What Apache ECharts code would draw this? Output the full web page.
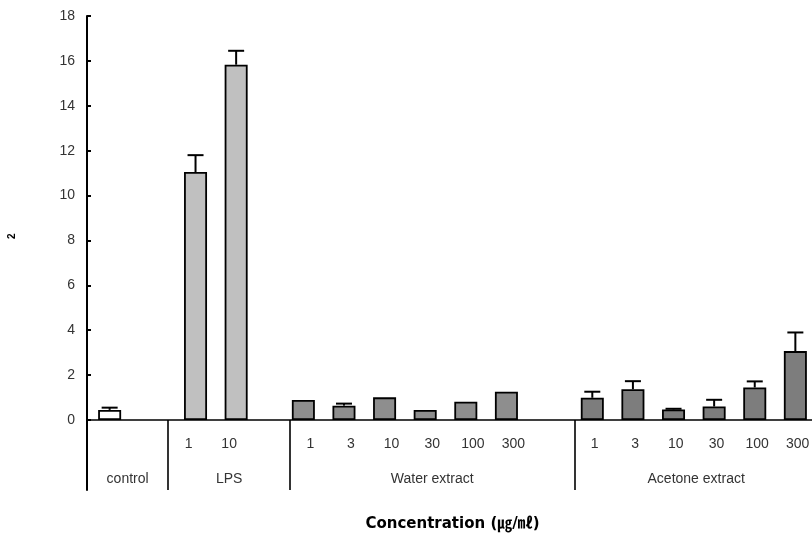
<!DOCTYPE html>
<html>
<head>
<meta charset="utf-8">
<script src="https://cdn.jsdelivr.net/npm/echarts@6/dist/echarts.min.js"></script>
<style>
html,body{margin:0;padding:0;background:#fff;}
#chart{width:812px;height:536px;}
</style>
</head>
<body>
<div id="chart"></div>
<script>
// ---- data ----
const groupNames = ['control', 'LPS', 'Water extract', 'Acetone extract'];
const controlDoses = [''];
const lpsDoses = ['1', '10'];
const waterDoses = ['1', '3', '10', '30', '100', '300'];
const acetoneDoses = ['1', '3', '10', '30', '100', '300'];
const controlMean = [0.45];
const controlErr = [0.10];
const lpsMean = [11.05, 15.83];
const lpsErr = [0.75, 0.62];
const waterMean = [0.89, 0.64, 1.01, 0.45, 0.81, 1.26];
const waterErr = [0, 0.09, 0, 0, 0, 0];
const acetoneMean = [0.99, 1.37, 0.47, 0.60, 1.45, 3.07];
const acetoneErr = [0.27, 0.36, 0.03, 0.30, 0.27, 0.83];
const yTicks = [0, 2, 4, 6, 8, 10, 12, 14, 16, 18];
const xTitle = 'Concentration (㎍/㎖)';
const yNameFragment = '2';

// ---- layout / style ----
const groupDoses = [controlDoses, lpsDoses, waterDoses, acetoneDoses];
const groupMeans = [controlMean, lpsMean, waterMean, acetoneMean];
const groupErrs = [controlErr, lpsErr, waterErr, acetoneErr];
const groupPad = [1, 1, 1, 0];          // empty slots after each group
const fills = ['#ffffff', '#c0c0c0', '#8e8e8e', '#7d7d7d'];
const slotOrder = [2, 3, 0, 1];          // bar position order within a slot
const barW = 23;
const gapPct = -0.797;
const textColor = '#333';
const font = "'Liberation Sans', Arial, sans-serif";

// build slots
const slots = [];
const groupSpan = [];
groupDoses.forEach((doses, g) => {
  const start = slots.length;
  doses.forEach((d, i) => slots.push({ g, label: d, mean: groupMeans[g][i], err: groupErrs[g][i] }));
  for (let k = 0; k < groupPad[g]; k++) slots.push({ g, label: '', mean: null, err: null });
  groupSpan.push([start, slots.length]);
});
const categories = slots.map((s, i) => 's' + i);
const tickLabels = slots.map(s => s.label);
const nSlots = slots.length;
const boundaries = groupSpan.map(sp => sp[0]).filter(v => v > 0);
const groupCenters = {};
groupSpan.forEach((sp, g) => { groupCenters[((sp[0] + sp[1]) / 2).toFixed(1)] = groupNames[g]; });

const step = barW * (1 + gapPct);
const widthSum = 4 * step - barW * gapPct;
const offsetOf = p => -widthSum / 2 + p * step + barW / 2;

const barSeries = slotOrder.map(g => ({
  type: 'bar',
  name: groupNames[g],
  xAxisIndex: 0, yAxisIndex: 0,
  barWidth: barW,
  barGap: (gapPct * 100) + '%',
  itemStyle: { color: fills[g], borderColor: '#000', borderWidth: 1.8 },
  data: slots.map(s => (s.g === g && s.mean != null) ? s.mean : '-'),
  z: 2
}));

const errData = [];
slots.forEach((s, i) => {
  if (s.mean != null && s.err > 0) {
    errData.push([i, s.mean, s.err, offsetOf(slotOrder.indexOf(s.g))]);
  }
});

const errSeries = {
  type: 'custom',
  xAxisIndex: 0, yAxisIndex: 0,
  z: 3,
  data: errData,
  renderItem: function (params, api) {
    const x = api.value(0), m = api.value(1), e = api.value(2), off = api.value(3);
    const b = api.coord([x, m]);
    const t = api.coord([x, m + e]);
    const cx = b[0] + off;
    return {
      type: 'group',
      children: [
        { type: 'line', shape: { x1: cx, y1: b[1], x2: cx, y2: t[1] }, style: { stroke: '#000', lineWidth: 2 } },
        { type: 'line', shape: { x1: cx - 8, y1: t[1], x2: cx + 8, y2: t[1] }, style: { stroke: '#000', lineWidth: 2 } }
      ]
    };
  }
};

const chart = echarts.init(document.getElementById('chart'), null, { renderer: 'canvas' });
chart.setOption({
  animation: false,
  backgroundColor: '#fff',
  grid: [
    { left: 87, right: -6, top: 16, height: 404, outerBoundsMode: 'none', containLabel: false },
    { left: 87, right: -6, top: 420, height: 70, outerBoundsMode: 'none', containLabel: false }
  ],
  xAxis: [
    {
      type: 'category', gridIndex: 0, data: categories,
      axisLine: { show: true, onZero: false, lineStyle: { color: '#000', width: 1.5 } },
      axisTick: { show: false },
      axisLabel: { interval: 0, margin: 17, color: textColor, fontSize: 14, fontFamily: font,
        formatter: (v, i) => tickLabels[i] },
      splitLine: { show: false },
      name: xTitle, nameLocation: 'middle', nameGap: 97,
      nameTextStyle: { color: '#000', fontSize: 15, fontWeight: 'bold',
        fontFamily: "'DejaVu Sans', 'Noto Sans CJK KR', sans-serif" }
    },
    {
      type: 'value', gridIndex: 0, position: 'bottom', min: 0, max: nSlots, interval: 0.5,
      axisLine: { show: false }, axisTick: { show: false }, splitLine: { show: false },
      axisLabel: { margin: 52, color: textColor, fontSize: 14, fontFamily: font,
        showMinLabel: true, showMaxLabel: true,
        formatter: v => groupCenters[v.toFixed(1)] || '' }
    },
    {
      type: 'category', gridIndex: 1, data: categories,
      axisLine: { show: false }, axisTick: { show: false }, axisLabel: { show: false },
      splitLine: { show: true, interval: (idx) => boundaries.indexOf(idx) >= 0,
        lineStyle: { color: '#000', width: 1.6 } }
    }
  ],
  yAxis: [
    {
      type: 'value', gridIndex: 0, min: yTicks[0], max: yTicks[yTicks.length - 1], interval: yTicks[1] - yTicks[0],
      axisLine: { show: true, lineStyle: { color: '#000', width: 2 } },
      axisTick: { show: true, inside: true, length: 4, lineStyle: { color: '#000', width: 2 } },
      axisLabel: { margin: 12, color: textColor, fontSize: 14, fontFamily: font },
      splitLine: { show: false }
    },
    {
      type: 'value', gridIndex: 1, min: 0, max: 1,
      axisLine: { show: true, lineStyle: { color: '#000', width: 2 } },
      axisTick: { show: false }, axisLabel: { show: false }, splitLine: { show: false }
    }
  ],
  graphic: [
    { type: 'text', x: 7, y: 239, rotation: Math.PI / 2,
      style: { text: yNameFragment, fill: '#000', fontSize: 10, fontWeight: 'bold', fontFamily: font } }
  ],
  series: barSeries.concat([errSeries])
});
</script>
</body>
</html>
